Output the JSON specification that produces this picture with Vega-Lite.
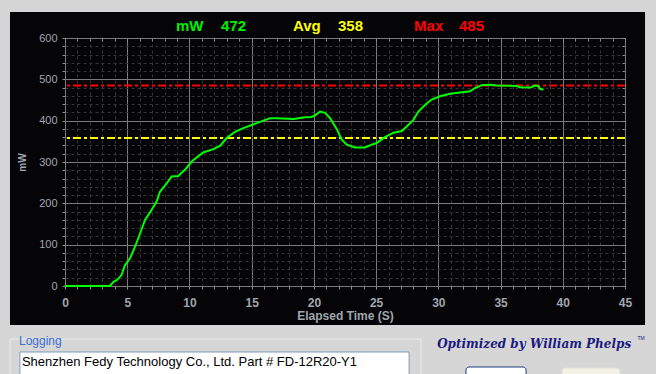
{
  "$schema": "https://vega.github.io/schema/vega-lite/v6.json",
  "width": 560,
  "height": 248,
  "autosize": {"type": "none"},
  "padding": {"left": 65, "top": 38, "right": 31, "bottom": 88},
  "background": "#050508",
  "config": {
    "font": "Liberation Sans",
    "view": {"stroke": "#828282", "fill": "#050508", "strokeWidth": 1}
  },
  "resolve": {"axis": {"x": "independent", "y": "independent"}},
  "data": {"values": [{}]},
  "layer": [
    {
      "mark": {"type": "rect", "fill": "#d6d6d6"},
      "encoding": {
        "x": {"datum": -10, "type": "quantitative", "scale": {"domain": [0, 45], "nice": false, "zero": false},
          "axis": {"orient": "bottom", "values": [1,2,3,4,6,7,8,9,11,12,13,14,16,17,18,19,21,22,23,24,26,27,28,29,31,32,33,34,36,37,38,39,41,42,43,44],
            "grid": true, "gridColor": "#353535", "gridDash": [3, 3], "gridWidth": 1,
            "domain": false, "ticks": true, "tickSize": 3, "tickColor": "#8a8a8a", "labels": false, "title": null}},
        "x2": {"datum": -4.42},
        "y": {"datum": -300, "type": "quantitative", "scale": {"domain": [0, 600], "nice": false},
          "axis": {"orient": "left", "values": [20,40,60,80,120,140,160,180,220,240,260,280,320,340,360,380,420,440,460,480,520,540,560,580],
            "grid": true, "gridColor": "#353535", "gridDash": [3, 3], "gridWidth": 1,
            "domain": false, "ticks": true, "tickSize": 3, "tickColor": "#8a8a8a", "labels": false, "title": null}},
        "y2": {"datum": 800}
      }
    },
    {
      "mark": {"type": "rect", "fill": "#d6d6d6"},
      "encoding": {
        "x": {"datum": 46.61, "type": "quantitative", "scale": {"domain": [0, 45], "nice": false, "zero": false},
          "axis": {"orient": "top", "values": [0,1,2,3,4,5,6,7,8,9,10,11,12,13,14,15,16,17,18,19,20,21,22,23,24,25,26,27,28,29,30,31,32,33,34,35,36,37,38,39,40,41,42,43,44,45],
            "grid": false, "domain": false, "ticks": true, "tickSize": -3, "tickColor": "#8a8a8a", "labels": false, "title": null}},
        "x2": {"datum": 55},
        "y": {"datum": -300, "type": "quantitative", "scale": {"domain": [0, 600], "nice": false},
          "axis": {"orient": "right", "values": [0,20,40,60,80,100,120,140,160,180,200,220,240,260,280,300,320,340,360,380,400,420,440,460,480,500,520,540,560,580,600],
            "grid": false, "domain": false, "ticks": true, "tickSize": -3, "tickColor": "#8a8a8a", "labels": false, "title": null}},
        "y2": {"datum": 800}
      }
    },
    {
      "mark": {"type": "rect", "fill": "#d6d6d6"},
      "encoding": {
        "x": {"datum": -10, "type": "quantitative", "scale": {"domain": [0, 45], "nice": false, "zero": false}, "axis": null},
        "x2": {"datum": 55},
        "y": {"datum": 662.9, "type": "quantitative", "scale": {"domain": [0, 600], "nice": false}, "axis": null},
        "y2": {"datum": 800}
      }
    },
    {
      "mark": {"type": "rect", "fill": "#d6d6d6"},
      "encoding": {
        "x": {"datum": -10, "type": "quantitative", "scale": {"domain": [0, 45], "nice": false, "zero": false}, "axis": null},
        "x2": {"datum": 55},
        "y": {"datum": -300, "type": "quantitative", "scale": {"domain": [0, 600], "nice": false}, "axis": null},
        "y2": {"datum": -94.4}
      }
    },
    {
      "mark": {"type": "rect", "fill": null, "stroke": "#ececec", "strokeWidth": 1},
      "encoding": {
        "x": {"datum": -4.42, "type": "quantitative", "scale": {"domain": [0, 45], "nice": false, "zero": false}, "axis": null},
        "x2": {"datum": 28.6},
        "y": {"datum": -128.2, "type": "quantitative", "scale": {"domain": [0, 600], "nice": false}, "axis": null},
        "y2": {"datum": -260}
      }
    },
    {
      "mark": {"type": "rect", "fill": "#ffffff", "stroke": "#7f9db9", "strokeWidth": 1},
      "encoding": {
        "x": {"datum": -3.62, "type": "quantitative", "scale": {"domain": [0, 45], "nice": false, "zero": false}, "axis": null},
        "x2": {"datum": 27.65},
        "y": {"datum": -159.7, "type": "quantitative", "scale": {"domain": [0, 600], "nice": false}, "axis": null},
        "y2": {"datum": -260}
      }
    },
    {
      "mark": {"type": "rect", "fill": "#ffffff", "stroke": "#1c3c78", "strokeWidth": 1, "cornerRadius": 3},
      "encoding": {
        "x": {"datum": 32.22, "type": "quantitative", "scale": {"domain": [0, 45], "nice": false, "zero": false}, "axis": null},
        "x2": {"datum": 37.05},
        "y": {"datum": -196, "type": "quantitative", "scale": {"domain": [0, 600], "nice": false}, "axis": null},
        "y2": {"datum": -260}
      }
    },
    {
      "mark": {"type": "rect", "fill": "#f4f2e6", "stroke": "#e2e0d4", "strokeWidth": 1, "cornerRadius": 3},
      "encoding": {
        "x": {"datum": 39.94, "type": "quantitative", "scale": {"domain": [0, 45], "nice": false, "zero": false}, "axis": null},
        "x2": {"datum": 44.6},
        "y": {"datum": -198.5, "type": "quantitative", "scale": {"domain": [0, 600], "nice": false}, "axis": null},
        "y2": {"datum": -260}
      }
    },
    {
      "mark": {"type": "text", "text": "Logging", "align": "left", "baseline": "middle", "fontSize": 12, "color": "#3a6fd8"},
      "encoding": {
        "x": {"datum": -3.7, "type": "quantitative", "scale": {"domain": [0, 45], "nice": false, "zero": false}, "axis": null},
        "y": {"datum": -133, "type": "quantitative", "scale": {"domain": [0, 600], "nice": false}, "axis": null}
      }
    },
    {
      "mark": {"type": "text", "text": "Shenzhen Fedy Technology Co., Ltd. Part # FD-12R20-Y1", "align": "left", "baseline": "middle", "fontSize": 13, "color": "#000000"},
      "encoding": {
        "x": {"datum": -3.46, "type": "quantitative", "scale": {"domain": [0, 45], "nice": false, "zero": false}, "axis": null},
        "y": {"datum": -183.9, "type": "quantitative", "scale": {"domain": [0, 600], "nice": false}, "axis": null}
      }
    },
    {
      "mark": {"type": "text", "text": "Optimized by William Phelps", "align": "center", "baseline": "middle", "fontSize": 12, "font": "DejaVu Serif", "fontStyle": "italic", "fontWeight": "bold", "color": "#1a1a80"},
      "encoding": {
        "x": {"datum": 37.7, "type": "quantitative", "scale": {"domain": [0, 45], "nice": false, "zero": false}, "axis": null},
        "y": {"datum": -140.3, "type": "quantitative", "scale": {"domain": [0, 600], "nice": false}, "axis": null}
      }
    },
    {
      "mark": {"type": "text", "text": "TM", "align": "center", "baseline": "middle", "fontSize": 5, "color": "#1a1a80"},
      "encoding": {
        "x": {"datum": 46.3, "type": "quantitative", "scale": {"domain": [0, 45], "nice": false, "zero": false}, "axis": null},
        "y": {"datum": -127, "type": "quantitative", "scale": {"domain": [0, 600], "nice": false}, "axis": null}
      }
    },
    {
      "mark": {"type": "rule", "color": "#ffff00", "strokeWidth": 2, "strokeDash": [8, 3, 3, 3]},
      "encoding": {
        "y": {"datum": 358, "type": "quantitative", "scale": {"domain": [0, 600], "nice": false}, "axis": null}
      }
    },
    {
      "mark": {"type": "rule", "color": "#ff0000", "strokeWidth": 2, "strokeDash": [8, 3, 3, 3]},
      "encoding": {
        "y": {"datum": 485, "type": "quantitative", "scale": {"domain": [0, 600], "nice": false}, "axis": null}
      }
    },
    {
      "data": {"values": [
        {"t": 0, "mW": 0}, {"t": 3.6, "mW": 0}, {"t": 3.9, "mW": 10}, {"t": 4.2, "mW": 15},
        {"t": 4.55, "mW": 27}, {"t": 4.82, "mW": 50}, {"t": 5.22, "mW": 67}, {"t": 5.63, "mW": 95},
        {"t": 6.03, "mW": 127}, {"t": 6.43, "mW": 160}, {"t": 6.83, "mW": 178}, {"t": 7.37, "mW": 205},
        {"t": 7.63, "mW": 228}, {"t": 8.17, "mW": 248}, {"t": 8.57, "mW": 265}, {"t": 9.1, "mW": 266},
        {"t": 9.64, "mW": 281}, {"t": 10.18, "mW": 301}, {"t": 11.1, "mW": 323}, {"t": 11.92, "mW": 331},
        {"t": 12.46, "mW": 339}, {"t": 12.99, "mW": 358}, {"t": 13.66, "mW": 373}, {"t": 14.33, "mW": 382},
        {"t": 15.4, "mW": 394}, {"t": 16.47, "mW": 406}, {"t": 17.0, "mW": 406}, {"t": 18.35, "mW": 404},
        {"t": 19.3, "mW": 408}, {"t": 19.8, "mW": 409}, {"t": 20.1, "mW": 413}, {"t": 20.5, "mW": 422},
        {"t": 20.9, "mW": 419}, {"t": 21.3, "mW": 406}, {"t": 21.83, "mW": 380}, {"t": 22.24, "mW": 354},
        {"t": 22.64, "mW": 342}, {"t": 23.3, "mW": 335}, {"t": 24.1, "mW": 335}, {"t": 24.65, "mW": 342},
        {"t": 25.05, "mW": 346}, {"t": 25.7, "mW": 360}, {"t": 26.4, "mW": 371}, {"t": 27.06, "mW": 375},
        {"t": 27.46, "mW": 386}, {"t": 27.99, "mW": 402}, {"t": 28.4, "mW": 422}, {"t": 28.93, "mW": 438},
        {"t": 29.46, "mW": 451}, {"t": 30.13, "mW": 459}, {"t": 30.94, "mW": 465}, {"t": 31.74, "mW": 468},
        {"t": 32.55, "mW": 471}, {"t": 32.95, "mW": 479}, {"t": 33.48, "mW": 486}, {"t": 34.15, "mW": 487},
        {"t": 34.7, "mW": 485}, {"t": 36.3, "mW": 484}, {"t": 36.56, "mW": 481}, {"t": 37.4, "mW": 480},
        {"t": 37.77, "mW": 485}, {"t": 38.03, "mW": 484}, {"t": 38.17, "mW": 477}, {"t": 38.44, "mW": 475}
      ]},
      "mark": {"type": "line", "color": "#00ff00", "strokeWidth": 2},
      "encoding": {
        "x": {
          "field": "t", "type": "quantitative",
          "scale": {"domain": [0, 45], "nice": false, "zero": false},
          "axis": {
            "orient": "bottom",
            "values": [0,5,10,15,20,25,30,35,40,45],
            "grid": true, "gridColor": "#7a7a7a", "gridWidth": 1,
            "domain": false,
            "ticks": true, "tickSize": 3, "tickColor": "#8a8a8a",
            "labelColor": "#a0a6ad", "labelFontSize": 12, "labelFontWeight": "bold", "labelPadding": 8,
            "labelFlush": false, "labelOverlap": false,
            "title": "Elapsed Time (S)", "titleColor": "#a0a6ad", "titleFontSize": 12, "titleFontWeight": "bold", "titlePadding": 2
          }
        },
        "y": {
          "field": "mW", "type": "quantitative",
          "scale": {"domain": [0, 600], "nice": false},
          "axis": {
            "orient": "left",
            "values": [0,100,200,300,400,500,600],
            "grid": true, "gridColor": "#7a7a7a", "gridWidth": 1,
            "domain": false,
            "ticks": true, "tickSize": 3, "tickColor": "#8a8a8a",
            "labelColor": "#a0a6ad", "labelFontSize": 11, "labelPadding": 5,
            "labelFlush": false, "labelOverlap": false,
            "title": "mW", "titleColor": "#a0a6ad", "titleFontSize": 10, "titleFontWeight": "bold",
            "titleX": -43, "titleY": 124, "titleAngle": 270, "titleAlign": "center", "titleBaseline": "middle"
          }
        }
      }
    },
    {
      "mark": {"type": "text", "text": "mW", "align": "left", "baseline": "middle", "fontSize": 15, "fontWeight": "bold", "color": "#00f000"},
      "encoding": {
        "x": {"datum": 8.92, "type": "quantitative", "scale": {"domain": [0, 45], "nice": false, "zero": false}, "axis": null},
        "y": {"datum": 629, "type": "quantitative", "scale": {"domain": [0, 600], "nice": false}, "axis": null}
      }
    },
    {
      "mark": {"type": "text", "text": "472", "align": "left", "baseline": "middle", "fontSize": 15, "fontWeight": "bold", "color": "#00f000"},
      "encoding": {
        "x": {"datum": 12.54, "type": "quantitative", "scale": {"domain": [0, 45], "nice": false, "zero": false}, "axis": null},
        "y": {"datum": 629, "type": "quantitative", "scale": {"domain": [0, 600], "nice": false}, "axis": null}
      }
    },
    {
      "mark": {"type": "text", "text": "Avg", "align": "left", "baseline": "middle", "fontSize": 15, "fontWeight": "bold", "color": "#ffff00"},
      "encoding": {
        "x": {"datum": 18.32, "type": "quantitative", "scale": {"domain": [0, 45], "nice": false, "zero": false}, "axis": null},
        "y": {"datum": 629, "type": "quantitative", "scale": {"domain": [0, 600], "nice": false}, "axis": null}
      }
    },
    {
      "mark": {"type": "text", "text": "358", "align": "left", "baseline": "middle", "fontSize": 15, "fontWeight": "bold", "color": "#ffff00"},
      "encoding": {
        "x": {"datum": 21.94, "type": "quantitative", "scale": {"domain": [0, 45], "nice": false, "zero": false}, "axis": null},
        "y": {"datum": 629, "type": "quantitative", "scale": {"domain": [0, 600], "nice": false}, "axis": null}
      }
    },
    {
      "mark": {"type": "text", "text": "Max", "align": "left", "baseline": "middle", "fontSize": 15, "fontWeight": "bold", "color": "#ff0000"},
      "encoding": {
        "x": {"datum": 28.05, "type": "quantitative", "scale": {"domain": [0, 45], "nice": false, "zero": false}, "axis": null},
        "y": {"datum": 629, "type": "quantitative", "scale": {"domain": [0, 600], "nice": false}, "axis": null}
      }
    },
    {
      "mark": {"type": "text", "text": "485", "align": "left", "baseline": "middle", "fontSize": 15, "fontWeight": "bold", "color": "#ff0000"},
      "encoding": {
        "x": {"datum": 31.66, "type": "quantitative", "scale": {"domain": [0, 45], "nice": false, "zero": false}, "axis": null},
        "y": {"datum": 629, "type": "quantitative", "scale": {"domain": [0, 600], "nice": false}, "axis": null}
      }
    }
  ]
}
